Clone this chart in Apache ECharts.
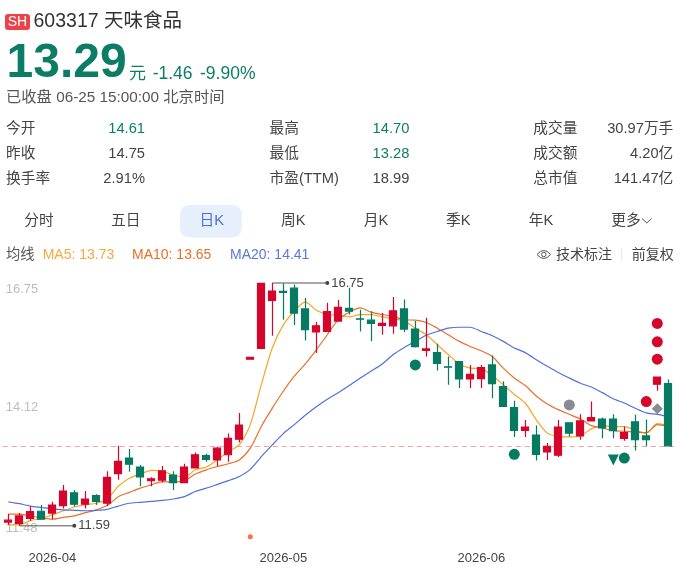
<!DOCTYPE html>
<html><head><meta charset="utf-8">
<style>html,body{margin:0;padding:0;background:#fff}#c{width:680px;height:573px}</style>
<script src="https://cdn.jsdelivr.net/npm/echarts@6/dist/echarts.min.js"></script>
</head><body><div id="c"></div>
<script>
const dates=['2026-03-26','2026-03-27','2026-03-30','2026-03-31','2026-04-01','2026-04-02','2026-04-03','2026-04-07','2026-04-08','2026-04-09','2026-04-10','2026-04-13','2026-04-14','2026-04-15','2026-04-16','2026-04-17','2026-04-20','2026-04-21','2026-04-22','2026-04-23','2026-04-24','2026-04-27','2026-04-28','2026-04-29','2026-04-30','2026-05-06','2026-05-07','2026-05-08','2026-05-11','2026-05-12','2026-05-13','2026-05-14','2026-05-15','2026-05-18','2026-05-19','2026-05-20','2026-05-21','2026-05-22','2026-05-25','2026-05-26','2026-05-27','2026-05-28','2026-05-29','2026-06-01','2026-06-02','2026-06-03','2026-06-04','2026-06-05','2026-06-08','2026-06-09','2026-06-10','2026-06-11','2026-06-12','2026-06-15','2026-06-16','2026-06-17','2026-06-18','2026-06-22','2026-06-23','2026-06-24','2026-06-25'];
const monthLabels={'2026-04-01':'2026-04','2026-05-06':'2026-05','2026-06-01':'2026-06'};
const yTicks=[11.48,14.115,16.75];
// open, close, low, high
const candles=[[11.67,11.71,11.61,11.84],[11.64,11.80,11.59,11.86],[11.75,11.89,11.70,12.00],[11.90,11.73,11.73,12.03],[11.86,12.03,11.73,12.10],[12.02,12.33,11.96,12.46],[12.29,12.05,12.00,12.35],[12.05,12.16,11.96,12.33],[12.23,12.11,12.03,12.26],[12.07,12.62,12.01,12.75],[12.70,12.96,12.57,13.29],[13.03,12.90,12.74,13.22],[12.84,12.63,12.43,12.88],[12.55,12.59,12.43,12.62],[12.56,12.76,12.51,12.86],[12.67,12.51,12.35,12.75],[12.51,12.84,12.51,12.91],[12.82,13.10,12.82,13.15],[13.08,13.00,12.95,13.12],[12.99,13.24,12.86,13.27],[13.10,13.45,12.95,13.55],[13.43,13.73,13.36,13.99],[15.13,15.17,15.13,15.17],[15.36,16.74,15.36,16.74],[16.38,16.58,15.63,16.75],[16.57,16.55,15.97,16.74],[16.64,16.11,15.86,16.72],[16.20,15.76,15.53,16.43],[15.71,15.84,15.26,15.92],[15.72,16.14,15.72,16.33],[15.94,16.23,15.94,16.39],[16.21,16.15,16.08,16.65],[15.99,15.98,15.72,16.18],[15.96,15.89,15.51,16.15],[15.85,15.89,15.65,16.11],[15.84,16.16,15.67,16.45],[16.20,15.77,15.71,16.40],[15.77,15.40,15.38,15.94],[15.32,15.35,15.19,16.01],[15.27,15.04,14.89,15.46],[14.97,14.96,14.59,15.19],[15.08,14.71,14.52,15.08],[14.71,14.81,14.52,15.01],[14.72,14.95,14.52,15.01],[15.01,14.61,14.30,15.21],[14.55,14.13,14.13,14.66],[14.10,13.62,13.48,14.25],[13.62,13.69,13.48,13.84],[13.52,13.11,12.98,13.72],[13.16,13.28,12.99,13.35],[13.09,13.69,13.05,13.84],[13.78,13.56,13.49,13.78],[13.50,13.82,13.42,13.96],[13.82,13.89,13.81,14.23],[13.86,13.67,13.45,13.89],[13.86,13.61,13.45,13.96],[13.45,13.57,13.40,13.70],[13.80,13.42,13.19,13.95],[13.50,13.42,13.28,13.85],[14.60,14.75,14.46,14.75],[14.61,13.29,13.28,14.70]];
const ma5=[11.61,11.61,11.70,11.75,11.82,11.91,11.99,12.04,12.07,12.16,12.43,12.60,12.69,12.77,12.75,12.67,12.62,12.78,12.84,12.99,13.17,13.31,13.74,14.59,15.37,15.86,16.15,16.35,16.17,16.08,16.06,16.03,16.08,16.08,16.03,15.99,15.94,15.79,15.65,15.44,15.23,15.03,14.94,14.93,14.78,14.59,14.38,14.20,13.84,13.56,13.49,13.48,13.50,13.65,13.72,13.70,13.70,13.62,13.56,13.76,13.72];
const ma10=[11.84,11.84,11.80,11.76,11.73,11.77,11.80,11.87,11.93,12.02,12.21,12.30,12.39,12.46,12.53,12.52,12.55,12.69,12.78,12.85,12.91,12.99,13.24,13.70,14.09,14.45,14.77,15.03,15.33,15.65,15.97,16.13,16.22,16.13,16.08,16.04,15.97,15.96,15.91,15.79,15.65,15.51,15.40,15.31,15.19,14.94,14.73,14.57,14.35,14.18,14.06,13.96,13.86,13.72,13.67,13.61,13.60,13.58,13.57,13.74,13.70];
const ma20=[12.10,12.06,12.01,11.98,11.95,11.93,11.92,11.91,11.92,11.94,12.01,12.07,12.09,12.11,12.13,12.16,12.21,12.32,12.39,12.47,12.55,12.64,12.79,13.06,13.31,13.55,13.74,13.94,14.12,14.28,14.42,14.57,14.73,14.88,15.03,15.23,15.38,15.51,15.64,15.72,15.79,15.81,15.81,15.72,15.63,15.51,15.37,15.27,15.12,14.98,14.85,14.73,14.62,14.54,14.42,14.29,14.20,14.09,13.99,13.96,13.91];
const lastClose=13.29;
const highLeader=[[24,16.75],[29,16.75]];
const lowLeader=[[1,11.59],[6,11.59]];
const greenDots=[[37,15.01],[46,13.11],[56,13.03]];
const greenTriangles=[[55,12.99]];
const redDots=[[58,14.23],[59,15.13],[59,15.50],[59,15.89]];
const grayDots=[[51,14.16]];
const grayDiamonds=[[59,14.08]];
const orangeDots=[[22,11.36]];
const stats=[
 ['今开','14.61','昨收','14.75','换手率','2.91%'],
 ['最高','14.70','最低','13.28','市盈(TTM)','18.99'],
 ['成交量','30.97万手','成交额','4.20亿','总市值','141.47亿']];
const tabs=['分时','五日','日K','周K','月K','季K','年K','更多'];

const FONT='"Liberation Sans","Noto Sans CJK SC",sans-serif';
const RED='#d6052b',GREEN='#077a62',TXT='#444',UPCOL='#0b7d64';
const T=(text,x,y,size,fill,extra)=>({type:'text',x,y,silent:true,style:Object.assign({text,fill,font:size+'px '+FONT,textVerticalAlign:'middle',verticalAlign:'middle',textAlign:'left'},extra||{})});
const g=[];
g.push({type:'rect',shape:{x:5,y:14,width:25,height:16,r:3},style:{fill:'#ec4248'}});
g.push(T('SH',17.5,22.5,14,'#fff',{textAlign:'center',align:'center'}));
g.push(T('603317 天味食品',33.5,22,19.5,'#333'));
g.push(T('13.29',6.5,64,48,UPCOL,{font:'bold 48px '+FONT}));
g.push(T('元',129,74,17,UPCOL));
g.push(T('-1.46',152.7,74,17.5,UPCOL));
g.push(T('-9.90%',200,74,17.5,UPCOL));
g.push(T('已收盘 06-25 15:00:00 北京时间',6,98,15.3,'#555'));
const rows=[129,154,179],colL=[6,269.5,533.3],colR=[145,409.3,673.3];
const greenVals={'14.61':1,'14.70':1,'13.28':1};
stats.forEach((s,c)=>{for(let r=0;r<3;r++){
 g.push(T(s[r*2],colL[c],rows[r],14.7,TXT));
 g.push(T(s[r*2+1],colR[c],rows[r],14.7,greenVals[s[r*2+1]]?UPCOL:TXT,{textAlign:'right',align:'right'}));
}});
g.push({type:'rect',shape:{x:180,y:205,width:61.7,height:32.5,r:9},style:{fill:'#e6f0fc'}});
const tabX=[39,125.7,211.7,293.3,376,458.3,541,626];
tabs.forEach((t,i)=>g.push(T(t,tabX[i],221,14.7,i===2?'#4a6fd8':TXT,{textAlign:'center',align:'center'})));
g.push({type:'polyline',shape:{points:[[642,218.5],[646.8,223],[651.6,218.5]]},style:{stroke:'#555',fill:null,lineWidth:1}});
g.push(T('均线',6,255,14.3,'#555'));
g.push(T('MA5: 13.73',42.7,255,14,'#f5a93c'));
g.push(T('MA10: 13.65',132,255,14,'#e8702a'));
g.push(T('MA20: 14.41',230,255,14,'#5a78d8'));
g.push({type:'bezierCurve',shape:{x1:537,y1:254.5,cpx1:543.8,cpy1:246.5,x2:550.6,y2:254.5},style:{stroke:'#555',fill:null,lineWidth:1}});
g.push({type:'bezierCurve',shape:{x1:537,y1:254.5,cpx1:543.8,cpy1:262.5,x2:550.6,y2:254.5},style:{stroke:'#555',fill:null,lineWidth:1}});
g.push({type:'circle',shape:{cx:543.8,cy:254.5,r:2.2},style:{stroke:'#555',fill:null,lineWidth:1}});
g.push(T('技术标注',556,255,14,TXT));
g.push({type:'line',shape:{x1:621.7,y1:248,x2:621.7,y2:261},style:{stroke:'#e4e4e4',lineWidth:1}});
g.push(T('前复权',631.7,255,14,TXT));

const leader=(pts)=>({type:'line',z:6,clip:false,silent:true,animation:false,data:[pts[0],{value:pts[1],label:{show:true,position:'right',distance:2,formatter:String(pts[1][1]),color:'#444',fontSize:13,fontFamily:FONT}}],
 lineStyle:{color:'#555',width:1},itemStyle:{color:'#444'},showAllSymbol:true,symbol:'circle',symbolSize:(v,p)=>p.dataIndex===1?4:0});
const scatter=(data,symbol,color,size)=>({type:'scatter',z:5,clip:false,silent:true,animation:false,data,symbol,symbolSize:size,itemStyle:{color,opacity:1}});
const ma=(data,color)=>({type:'line',z:1,data,smooth:0.25,showSymbol:false,silent:true,animation:false,lineStyle:{color,width:1.2}});
const chart=echarts.init(document.getElementById('c'));
chart.setOption({
 animation:false,backgroundColor:'#fff',textStyle:{fontFamily:FONT},
 grid:{left:2.8,width:671,top:283,height:248},
 xAxis:{type:'category',data:dates,boundaryGap:true,axisLine:{show:false},axisTick:{show:false},splitLine:{show:false},
  axisLabel:{color:'#444',fontSize:13,fontFamily:FONT,margin:21,interval:(i,v)=>!!monthLabels[v],formatter:v=>monthLabels[v]||'',hideOverlap:false}},
 yAxis:{type:'value',min:11.48,max:16.75,scale:true,axisLine:{show:false},axisTick:{show:false},splitLine:{show:false},
  axisLabel:{inside:true,margin:3,color:'#bdbdbd',fontSize:13,fontFamily:FONT,customValues:yTicks,
   formatter:v=>v===yTicks[0]?'{low|'+v.toFixed(2)+'}':v.toFixed(2),
   rich:{low:{padding:[0,0,6,0],color:'#bdbdbd',fontSize:13,fontFamily:FONT}},
   verticalAlignMinLabel:'middle',verticalAlignMaxLabel:'top'}},
 series:[
  ma(ma5,'#f5a623'),ma(ma10,'#e8702a'),ma(ma20,'#4f72d9'),
  {type:'candlestick',z:2,data:candles,barWidth:7.6,clip:false,silent:true,animation:false,
   itemStyle:{color:RED,color0:GREEN,borderColor:RED,borderColor0:GREEN,borderWidth:1.2},
   markLine:{silent:true,symbol:'none',animation:false,z:0,label:{show:false},lineStyle:{color:'#eda5a5',type:[5,4],width:1},data:[{yAxis:lastClose}]}},
  leader(highLeader),leader(lowLeader),
  scatter(greenDots,'circle',GREEN,11),
  scatter(greenTriangles,'path://M0 0 L10 0 L5 8 Z',GREEN,11),
  scatter(redDots,'circle',RED,11),
  scatter(grayDots,'circle','#8a8a94',11),
  scatter(grayDiamonds,'diamond','#8a8a94',11),
  scatter(orangeDots,'circle','#ff7043',5)
 ],
 graphic:{elements:g}
});
</script></body></html>
